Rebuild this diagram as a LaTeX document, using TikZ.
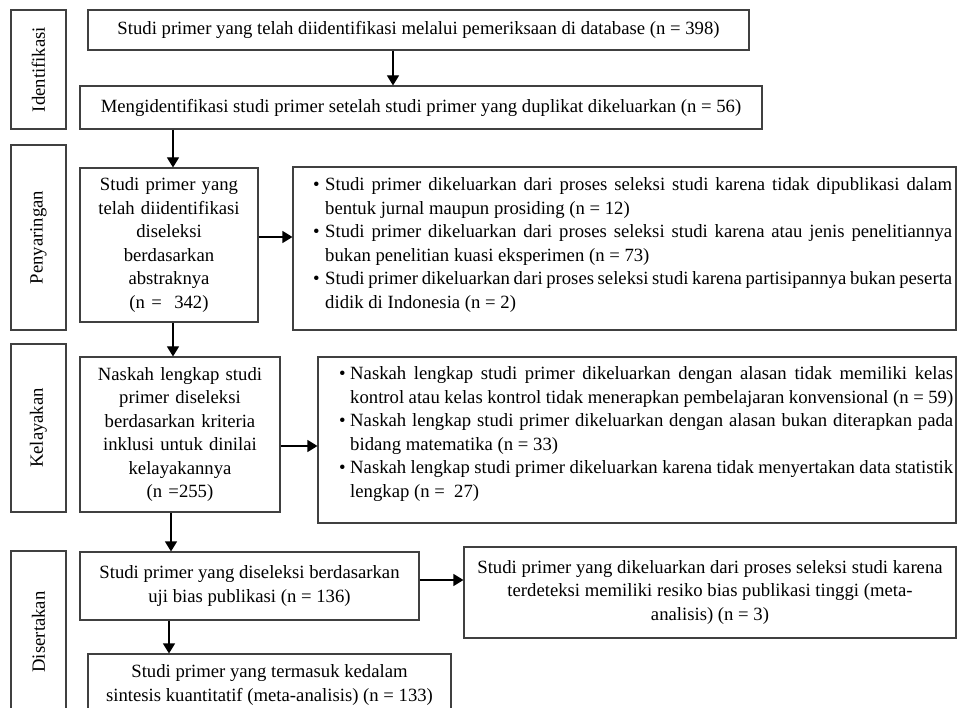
\documentclass[tikz,border=0pt]{standalone}
\usepackage{fontspec}
\setmainfont{Liberation Serif}
\usetikzlibrary{arrows.meta}
\begin{document}
\begin{tikzpicture}[x=1pt,y=-1pt,
 box/.style={draw=black!75, line width=1.1pt, inner sep=0pt, align=center, font=\fontsize{18.7}{23.5}\selectfont},
 lbl/.style={box, rotate=90},
 txt/.style={inner sep=0pt, align=justify, font=\fontsize{18.7}{23.5}\selectfont},
 arr/.style={-{Triangle[length=10pt,width=12pt]}, line width=1.1pt, black}
]
\useasboundingbox (0,0) rectangle (959,708);
\clip (0,0) rectangle (959,708);
\fill[white] (0,0) rectangle (959,708);

% stage labels
\node[lbl, minimum width=119, minimum height=55] (l1) at (38.5,69.5) {Identifikasi};
\node[lbl, minimum width=185, minimum height=55] (l2) at (38.5,237.5) {Penyaringan};
\node[lbl, minimum width=168, minimum height=55] (l3) at (38.5,428) {Kelayakan};
\node[lbl, minimum width=162, minimum height=55] (l4) at (38.5,632) {Disertakan};

% main boxes
\node[box, minimum width=661, minimum height=40] (b1) at (418.5,30)
 {Studi primer yang telah diidentifikasi melalui pemeriksaan di database (n = 398)};
\node[box, minimum width=682, minimum height=43] (b2) at (421,107.5)
 {Mengidentifikasi studi primer setelah studi primer yang duplikat dikeluarkan (n = 56)};
\node[box, minimum width=178, minimum height=154, text width=176] (b3) at (169,245)
 {Studi primer yang\\ telah diidentifikasi\\ diseleksi\\ berdasarkan\\ abstraknya\\ (n = \ 342)};
\node[box, minimum width=663, minimum height=163] (b4) at (624.5,248.5) {};
\node[txt, text width=639, anchor=west] (b4t) at (313,245) {%
\noindent\hangindent=12pt\hangafter=1\makebox[12pt][l]{\textbullet}Studi primer dikeluarkan dari proses seleksi studi karena tidak dipublikasi dalam\linebreak bentuk jurnal maupun prosiding (n = 12)\par
\noindent\hangindent=12pt\hangafter=1\makebox[12pt][l]{\textbullet}Studi primer dikeluarkan dari proses seleksi studi karena atau jenis penelitiannya\linebreak bukan penelitian kuasi eksperimen (n = 73)\par
\noindent\hangindent=12pt\hangafter=1\makebox[12pt][l]{\textbullet}Studi primer dikeluarkan dari proses seleksi studi karena partisipannya bukan peserta\linebreak didik di Indonesia (n = 2)\par};
\node[box, minimum width=200, minimum height=155, text width=198] (b5) at (180,434.5)
 {Naskah lengkap studi\\ primer diseleksi\\ berdasarkan kriteria\\ inklusi untuk dinilai\\ kelayakannya\\ (n =255)};
\node[box, minimum width=638, minimum height=166] (b6) at (637,440) {};
\node[txt, text width=614, anchor=west] (b6t) at (339,434) {%
\noindent\hangindent=11pt\hangafter=1\makebox[11pt][l]{\textbullet}Naskah lengkap studi primer dikeluarkan dengan alasan tidak memiliki kelas\linebreak kontrol atau kelas kontrol tidak menerapkan pembelajaran konvensional (n = 59)\par
\noindent\hangindent=11pt\hangafter=1\makebox[11pt][l]{\textbullet}Naskah lengkap studi primer dikeluarkan dengan alasan bukan diterapkan pada\linebreak bidang matematika (n = 33)\par
\noindent\hangindent=11pt\hangafter=1\makebox[11pt][l]{\textbullet}Naskah lengkap studi primer dikeluarkan karena tidak menyertakan data statistik\linebreak lengkap (n = \ 27)\par};
\node[box, minimum width=339, minimum height=68] (b7) at (249.5,586)
 {Studi primer yang diseleksi berdasarkan\\ uji bias publikasi (n = 136)};
\node[box, minimum width=492, minimum height=91] (b8) at (710,592.5)
 {Studi primer yang dikeluarkan dari proses seleksi studi karena\\ terdeteksi memiliki resiko bias publikasi tinggi (meta-\\ analisis) (n = 3)};
\node[box, minimum width=363, minimum height=62] (b9) at (269.5,685)
 {Studi primer yang termasuk kedalam\\ sintesis kuantitatif (meta-analisis) (n = 133)};

% connectors
\coordinate (a1) at (393,0);
\draw[arr] (b1.south -| a1) -- (b2.north -| a1);
\coordinate (a2) at (173,237);
\draw[arr] (b2.south -| a2) -- (b3.north -| a2);
\draw[arr] (b3.east |- a2) -- (b4.west |- a2);
\draw[arr] (b3.south -| a2) -- (b5.north -| a2);
\coordinate (a3) at (171,446);
\draw[arr] (b5.east |- a3) -- (b6.west |- a3);
\draw[arr] (b5.south -| a3) -- (b7.north -| a3);
\coordinate (a4) at (169,580);
\draw[arr] (b7.east |- a4) -- (b8.west |- a4);
\draw[arr] (b7.south -| a4) -- (b9.north -| a4);
\end{tikzpicture}
\end{document}
